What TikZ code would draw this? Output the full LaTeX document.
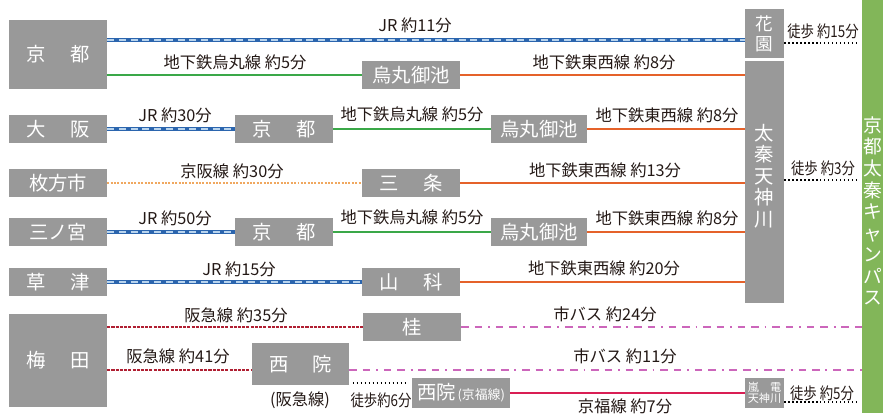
\documentclass[tikz,border=0pt]{standalone}
\usepackage{fontspec}
\setmainfont{Noto Sans CJK JP}

\definecolor{boxgray}{HTML}{999999}
\definecolor{campusgreen}{HTML}{82B659}
\definecolor{txt}{HTML}{231815}
\definecolor{jrblue}{HTML}{2B65AE}
\definecolor{jrlight}{HTML}{B8D4EE}
\definecolor{subgreen}{HTML}{3AA848}
\definecolor{tozaiorange}{HTML}{E5622A}
\definecolor{keihanorange}{HTML}{F0A860}
\definecolor{hankyured}{HTML}{B01F32}
\definecolor{buspink}{HTML}{CC66BB}
\definecolor{keifukured}{HTML}{D91E54}

\newcommand{\narrow}[1]{\scalebox{0.82}[1]{#1}}

\tikzset{
  stn/.style={fill=boxgray, text=white, inner sep=0pt,
    minimum width=2.94cm, minimum height=0.84cm,
    font=\fontsize{16.5}{19}\selectfont},
  tallstn/.style={stn, minimum width=1.17cm},
  lbl/.style={text=txt, inner sep=0pt, font=\fontsize{13.9}{16}\selectfont},
  jrline/.style={draw=jrblue, line width=2.6pt,
    postaction={draw=jrlight, line width=1pt, dash pattern=on 6pt off 4pt}},
  subline/.style={draw=subgreen, line width=2pt},
  tozai/.style={draw=tozaiorange, line width=2pt},
  keihan/.style={draw=keihanorange, line width=1.2pt, dash pattern=on 1.7pt off 1.2pt},
  hankyu/.style={draw=hankyured, line width=1pt, dash pattern=on 2.6pt off 1pt},
  bus/.style={draw=buspink, line width=1.2pt,
    dash pattern=on 6.5pt off 5pt on 6.5pt off 5pt on 1.5pt off 5pt},
  keifuku/.style={draw=keifukured, line width=2.2pt},
  walk/.style={draw=black, line width=1.3pt, dash pattern=on 1.2pt off 2.2pt}
}

\begin{document}
\begin{tikzpicture}[x=0.03cm, y=-0.03cm]
    \useasboundingbox (0,0) rectangle (883,413);

    % Campus bar
    \node[fill=campusgreen, inner sep=0pt, minimum width=0.63cm, minimum height=12.39cm] (campus) at (872.5,206.5) {};
    \node[text=white, inner sep=0pt, align=center, font=\fontsize{16}{18.4}\selectfont] (campustxt) at (872.5,211)
        {京\\都\\太\\秦\\キ\\ャ\\ン\\パ\\ス};

    % Stations on the right
    \node[tallstn, minimum height=1.47cm, font=\fontsize{15}{17}\selectfont, align=center] (hanazono) at (764.5,33.5) {花\\園};
    \node[tallstn, minimum height=7.26cm] (uzumasa) at (764.5,182) {};
    \node[text=white, inner sep=0pt, align=center, font=\fontsize{16.5}{18.4}\selectfont] (uzumasatxt) at (764.5,176)
        {太\\秦\\天\\神\\川};
    \node[tallstn, minimum height=0.9cm, font=\fontsize{9.5}{9.6}\selectfont, align=center] (randen) at (764.5,393)
        {嵐\hspace{1em}電\\天神川};

    % Starting stations
    \node[stn, minimum height=2.07cm] (kyoto1) at (58,54.5) {京\hspace{1.25em}都};
    \node[stn] (osaka) at (58,129) {大\hspace{1.25em}阪};
    \node[stn] (hirakata) at (58,183) {枚方市};
    \node[stn] (sannomiya) at (58,232) {三ノ宮};
    \node[stn] (kusatsu) at (58,282) {草\hspace{1.25em}津};
    \node[stn, minimum height=2.79cm] (umeda) at (58,360.5) {梅\hspace{1.25em}田};

    % Transfer stations
    \node[stn] (karasuma1) at (411,75) {烏丸御池};
    \node[stn] (kyoto2) at (284,129) {京\hspace{1.25em}都};
    \node[stn, minimum width=2.88cm] (karasuma2) at (539,129) {烏丸御池};
    \node[stn] (sanjo) at (411,183) {三\hspace{1.25em}条};
    \node[stn] (kyoto3) at (284,232) {京\hspace{1.25em}都};
    \node[stn, minimum width=2.88cm] (karasuma3) at (539,232) {烏丸御池};
    \node[stn] (yamashina) at (411,282) {山\hspace{1.25em}科};
    \node[stn] (katsura) at (412,327) {桂};
    \node[stn, minimum width=2.91cm, minimum height=1.26cm] (saiin) at (300.5,364) {西\hspace{1.25em}院};
    \node[stn, minimum height=0.9cm] (saiinK) at (461,393)
        {西院\hspace{0.1em}{\fontsize{11}{12}\selectfont(京福線)}};

    % Row 1
    \draw[jrline] (kyoto1.east |- 0,40) -- (hanazono.west |- 0,40);
    \draw[subline] (kyoto1.east |- karasuma1.west) -- (karasuma1.west);
    \draw[tozai] (karasuma1.east) -- (uzumasa.west |- karasuma1.east);
    \draw[walk, shorten >=3pt] (hanazono.east |- 0,43) -- (campus.west |- 0,43);
    \node[lbl] (tjr1) at (415,25) {JR 約11分};
    \node[lbl] (tsub1) at (235,62) {地下鉄烏丸線 約5分};
    \node[lbl] (ttz1) at (604,62) {地下鉄東西線 約8分};
    \node[lbl] (twk1) at (823,31) {\narrow{徒歩 約15分}};

    % Row 2
    \draw[jrline] (osaka.east) -- (kyoto2.west);
    \draw[subline] (kyoto2.east) -- (karasuma2.west);
    \draw[tozai] (karasuma2.east) -- (uzumasa.west |- karasuma2.east);
    \node[lbl] (tjr2) at (175,115) {JR 約30分};
    \node[lbl] (tsub2) at (412,114) {地下鉄烏丸線 約5分};
    \node[lbl] (ttz2) at (667,115) {地下鉄東西線 約8分};

    % Row 3
    \draw[keihan] (hirakata.east) -- (sanjo.west);
    \draw[tozai] (sanjo.east) -- (uzumasa.west |- sanjo.east);
    \draw[walk, shorten >=3pt] (uzumasa.east |- 0,180) -- (campus.west |- 0,180);
    \node[lbl] (tkh3) at (232,171) {京阪線 約30分};
    \node[lbl] (ttz3) at (605,170) {地下鉄東西線 約13分};
    \node[lbl] (twk3) at (823,168) {\narrow{徒歩 約3分}};

    % Row 4
    \draw[jrline] (sannomiya.east) -- (kyoto3.west);
    \draw[subline] (kyoto3.east) -- (karasuma3.west);
    \draw[tozai] (karasuma3.east) -- (uzumasa.west |- karasuma3.east);
    \node[lbl] (tjr4) at (175,218) {JR 約50分};
    \node[lbl] (tsub4) at (412,217) {地下鉄烏丸線 約5分};
    \node[lbl] (ttz4) at (667,218) {地下鉄東西線 約8分};

    % Row 5
    \draw[jrline] (kusatsu.east) -- (yamashina.west);
    \draw[tozai] (yamashina.east) -- (uzumasa.west |- yamashina.east);
    \node[lbl] (tjr5) at (239,269) {JR 約15分};
    \node[lbl] (ttz5) at (604,268) {地下鉄東西線 約20分};

    % Row 6
    \draw[hankyu] (umeda.east |- katsura.west) -- (katsura.west);
    \draw[bus] (katsura.east) -- (campus.west |- katsura.east);
    \node[lbl] (thk6) at (236,315) {阪急線 約35分};
    \node[lbl] (tbus6) at (605,314) {市バス 約24分};

    % Row 7
    \draw[hankyu] (umeda.east |- 0,370) -- (saiin.west |- 0,370);
    \draw[bus] (saiin.east |- 0,370) -- (campus.west |- 0,370);
    \draw[walk, shorten <=3pt, shorten >=3pt] (saiin.east |- 0,383) -- (saiinK.west |- 0,383);
    \draw[keifuku] (saiinK.east) -- (randen.west);
    \draw[walk, shorten >=3pt] (randen.east |- 0,402) -- (campus.west |- 0,402);
    \node[lbl] (thk7) at (178,356) {阪急線 約41分};
    \node[lbl] (tbus7) at (625,356) {市バス 約11分};
    \node[lbl] (tsaiin) at (300,400) {(阪急線)};
    \node[lbl] (twk7) at (381,400) {\narrow{徒歩約6分}};
    \node[lbl] (tkf7) at (625,406) {京福線 約7分};
    \node[lbl] (twk8) at (822,393) {\narrow{徒歩 約5分}};
\end{tikzpicture}
\end{document}
